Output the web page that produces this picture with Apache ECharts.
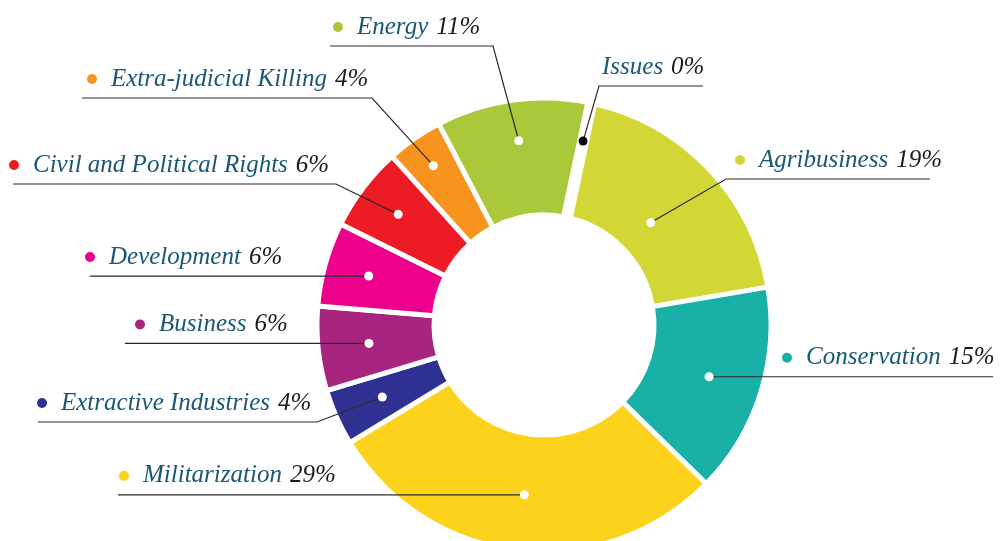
<!DOCTYPE html>
<html>
<head>
<meta charset="utf-8">
<script src="https://cdn.jsdelivr.net/npm/echarts@6/dist/echarts.min.js"></script>
<style>
html,body{margin:0;padding:0;background:#fff;}
#chart{width:1000px;height:541px;}
</style>
</head>
<body>
<div id="chart"></div>
<script>
// ---- data ----
const categories = ['Agribusiness', 'Conservation', 'Militarization', 'Extractive Industries', 'Business',
  'Development', 'Civil and Political Rights', 'Extra-judicial Killing', 'Energy', 'Issues'];
const shares = [19, 15, 29, 4, 6, 6, 6, 4, 11, 0];
const colors = ['#d2d736', '#19b1a7', '#fdd21c', '#2e3192', '#a7247f', '#ec008c', '#ed1c24', '#f7941d', '#a9c83a', '#ffffff'];

// ---- layout (annotation positions, not data) ----
const CX = 544, CY = 325, R0 = 110, R1 = 227;
const labelSpec = {
  'Agribusiness':               { tx: 735, ly: 179, elbowX: 726, farX: 930, dotR: 148 },
  'Conservation':               { tx: 782, ly: 376, farX: 993, dotR: 173 },
  'Militarization':             { tx: 119, ly: 494, farX: 118, dotR: 171 },
  'Extractive Industries':      { tx: 37,  ly: 422, elbowX: 317, farX: 38, dotR: 177 },
  'Business':                   { tx: 135, ly: 342, farX: 125, dotR: 176 },
  'Development':                { tx: 85,  ly: 276, farX: 90, dotR: 182 },
  'Civil and Political Rights': { tx: 9,   ly: 184, elbowX: 336, farX: 13, dotR: 183 },
  'Extra-judicial Killing':     { tx: 87,  ly: 98,  elbowX: 372, farX: 82, dotR: 194 },
  'Energy':                     { tx: 333, ly: 46,  elbowX: 493, farX: 330, dotR: 186 },
  'Issues':                     { tx: 602, ly: 86,  elbowX: 599, farX: 703, dotR: 188, noDot: true }
};

const FONT = '"Liberation Serif", "DejaVu Serif", serif';
const FS = 25;
const total = shares.reduce((a, b) => a + b, 0);

// visible donut
const ringData = categories.map((name, i) => ({
  name: name,
  value: shares[i],
  itemStyle: shares[i] === 0
    ? { color: '#ffffff', borderColor: '#ffffff', borderWidth: 12 }
    : { color: colors[i] }
}));

// transparent twin carrying labels + leader lines (drawn above the donut)
const labelData = categories.map((name, i) => {
  const spec = labelSpec[name];
  return {
    name: name,
    value: shares[i],
    label: {
      formatter: (spec.noDot ? '' : '{d|}{s|}') + '{n|' + name + '}{g|}{p|' + shares[i] + '%}',
      rich: {
        d: { width: 10, height: 10, borderRadius: 5, backgroundColor: colors[i] },
        s: { width: 14 },
        g: { width: 8 },
        n: { fontFamily: FONT, fontStyle: 'italic', fontSize: FS, color: '#1a5775' },
        p: { fontFamily: FONT, fontStyle: 'italic', fontSize: FS, color: '#1a1a1a' }
      }
    }
  };
});

// dots at slice mid-angles (polar coordinates)
let cum = 0;
const dotData = categories.map((name, i) => {
  const mid = cum + shares[i] / 2;
  cum += shares[i];
  return {
    value: [labelSpec[name].dotR, mid],
    itemStyle: { color: shares[i] === 0 ? '#000000' : '#ffffff', opacity: 1 }
  };
});

const chart = echarts.init(document.getElementById('chart'), null, { renderer: 'canvas' });

const noAxis = { show: false, axisLine: { show: false }, splitLine: { show: false },
  axisLabel: { show: false }, axisTick: { show: false } };

chart.setOption({
  animation: false,
  backgroundColor: '#ffffff',
  polar: { center: [CX, CY], radius: [0, R1] },
  angleAxis: Object.assign({ type: 'value', min: 0, max: total, startAngle: 78, clockwise: true }, noAxis),
  radiusAxis: Object.assign({ type: 'value', min: 0, max: R1 }, noAxis),
  series: [
    {
      type: 'pie',
      center: [CX, CY],
      radius: [R0, R1],
      startAngle: 78,
      clockwise: true,
      silent: true,
      emphasis: { disabled: true },
      itemStyle: { borderColor: '#ffffff', borderWidth: 5 },
      label: { show: false },
      labelLine: { show: false },
      data: ringData,
      z: 1
    },
    {
      type: 'pie',
      center: [CX, CY],
      radius: [R0, R1],
      startAngle: 78,
      clockwise: true,
      silent: true,
      avoidLabelOverlap: false,
      emphasis: { disabled: true },
      itemStyle: { color: 'rgba(0,0,0,0)', borderWidth: 0 },
      label: { show: true, position: 'outside' },
      labelLine: { show: true, showAbove: true, length: 10, length2: 10, smooth: false,
        lineStyle: { color: '#2a2a2a', width: 1.2 } },
      labelLayout: function (params) {
        const spec = labelSpec[categories[params.dataIndex]];
        const p0 = params.labelLinePoints[0];
        const k = spec.dotR / R1;
        const dot = [CX + (p0[0] - CX) * k, CY + (p0[1] - CY) * k];
        let pts, ly;
        if (spec.elbowX !== undefined) {
          ly = spec.ly;
          pts = [dot, [spec.elbowX, ly], [spec.farX, ly]];
        } else {
          ly = dot[1];
          pts = [dot, [(dot[0] + spec.farX) / 2, ly], [spec.farX, ly]];
        }
        return {
          x: spec.tx,
          y: ly - 19,
          align: 'left',
          verticalAlign: 'middle',
          labelLinePoints: pts
        };
      },
      data: labelData,
      z: 5
    },
    {
      type: 'scatter',
      coordinateSystem: 'polar',
      symbol: 'circle',
      symbolSize: 9,
      silent: true,
      z: 10,
      itemStyle: { opacity: 1 },
      data: dotData
    }
  ]
});
</script>
</body>
</html>
